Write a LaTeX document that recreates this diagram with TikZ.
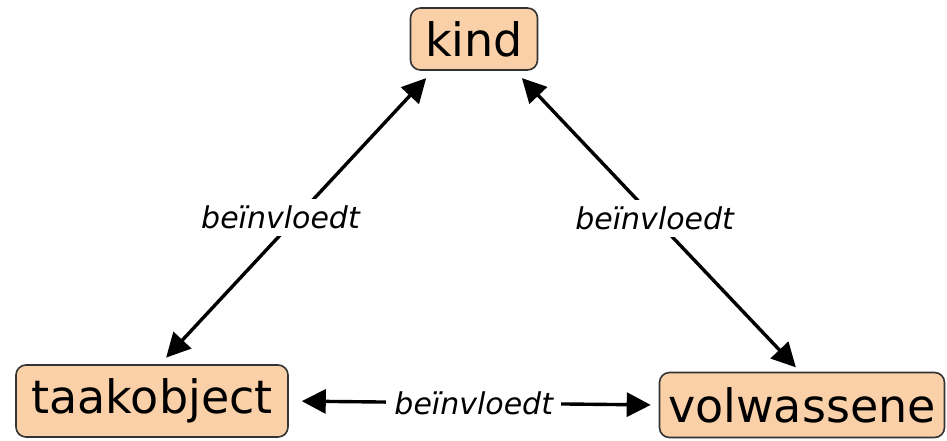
\documentclass[tikz,border=0pt]{standalone}
\usepackage{fontspec}
\setmainfont{DejaVu Sans}
\usetikzlibrary{arrows.meta}
\begin{document}
\begin{tikzpicture}[x=1pt,y=-1pt,
  party/.style={draw=black!80, line width=1.6pt, fill=boxfill, rounded corners=10pt,
    inner sep=0pt, font=\fontsize{46}{50}\selectfont},
  link/.style={line width=3.4pt, {Triangle[length=24pt,width=24pt]}-{Triangle[length=24pt,width=24pt]}},
  tag/.style={fill=white, inner xsep=4pt, inner ysep=7pt, font=\fontsize{30}{34}\selectfont\itshape}]
  \definecolor{boxfill}{HTML}{FAD0A8}
  \useasboundingbox (0,0) rectangle (947,440);
  % the three parties
  \node[party, minimum width=127pt, minimum height=62pt] (kind) at (474,39) {kind};
  \node[party, minimum width=272pt, minimum height=72pt] (taak) at (152,401) {taakobject};
  \node[party, minimum width=285pt, minimum height=65pt] (volw) at (802,405) {volwassene};
  % mutual influences
  \draw[link, shorten <=9pt, shorten >=10pt] ([xshift=8pt]taak.north) -- ([xshift=-41pt]kind.south)
    node[tag, pos=0.5, xshift=-16pt] {beïnvloedt};
  \draw[link, shorten <=10pt, shorten >=6pt] ([xshift=41pt]kind.south) -- ([xshift=-2pt]volw.north)
    node[tag, pos=0.49] {beïnvloedt};
  \draw[link, shorten <=13pt, shorten >=8pt] (taak.east) -- (volw.west)
    node[tag, pos=0.5, inner xsep=8pt] {beïnvloedt};
\end{tikzpicture}
\end{document}
